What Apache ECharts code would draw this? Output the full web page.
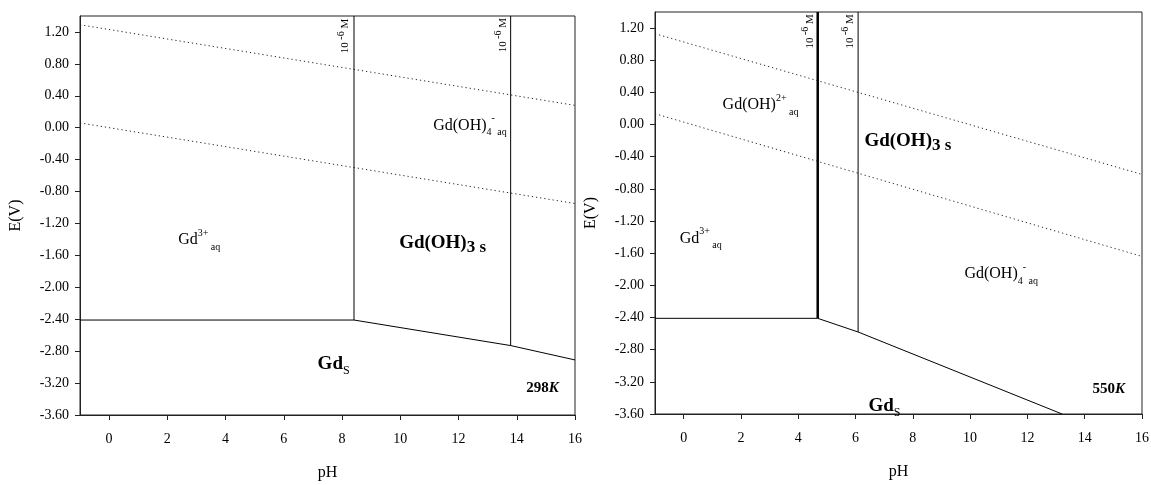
<!DOCTYPE html>
<html>
<head>
<meta charset="utf-8">
<script src="https://cdn.jsdelivr.net/npm/echarts@6/dist/echarts.min.js"></script>
<style>
  html, body { margin: 0; padding: 0; background: #fff; }
  #chart { width: 1151px; height: 485px; }
</style>
</head>
<body>
<div id="chart"></div>
<script>
// tick labels
const xTicks = [0, 2, 4, 6, 8, 10, 12, 14, 16];
const yTicks = [-3.6, -3.2, -2.8, -2.4, -2.0, -1.6, -1.2, -0.8, -0.4, 0.0, 0.4, 0.8, 1.2];

// 298 K panel
const o2Left = [[-1, 1.29], [16, 0.28]];
const h2Left = [[-1, 0.06], [16, -0.95]];
const floorLeft = [[-1, -2.41], [8.41, -2.41], [13.79, -2.73], [16, -2.91]];
const wall1Left = [[8.41, -2.41], [8.41, 1.4]];
const wall2Left = [[13.79, -2.73], [13.79, 1.4]];

// 550 K panel
const o2Right = [[-1, 1.13], [16, -0.62]];
const h2Right = [[-1, 0.135], [16, -1.64]];
const floorRight = [[-1, -2.41], [4.68, -2.41], [6.09, -2.58], [13.21, -3.6]];
const wall1Right = [[4.68, -2.41], [4.68, 1.4]];
const wall2Right = [[6.09, -2.58], [6.09, 1.4]];

// region labels: [pH, E, rich text, rotated]
const labelsLeft = [
  [8.12, 1.15, '{s|10}{sup| -6}{s| M}', true],
  [13.52, 1.16, '{s|10}{sup| -6}{s| M}', true],
  [11.13, 0.03, '{n|Gd(OH)}{sub|4}{sup|-}{sub| aq}', false],
  [9.96, -1.45, '{b|Gd(OH)}{bsub|3 s}', false],
  [2.37, -1.41, '{n|Gd}{sup|3+}{sub| aq}', false],
  [7.16, -2.96, '{b|Gd}{bsub2|S}', false],
  [14.33, -3.26, '{k|298}{ki|K}', false]
];
const labelsRight = [
  [4.4, 1.16, '{s|10}{sup| -6}{s| M}', true],
  [5.8, 1.16, '{s|10}{sup| -6}{s| M}', true],
  [1.36, 0.24, '{n|Gd(OH)}{sup|2+}{sub| aq}', false],
  [6.31, -0.2, '{b|Gd(OH)}{bsub|3 s}', false],
  [-0.14, -1.42, '{n|Gd}{sup|3+}{sub| aq}', false],
  [9.8, -1.86, '{n|Gd(OH)}{sub|4}{sup|-}{sub| aq}', false],
  [6.45, -3.5, '{b|Gd}{bsub2|S}', false],
  [14.27, -3.29, '{k|550}{ki|K}', false]
];

const serif = 'Liberation Serif';
const ink = '#000';

const rich = {
  n: { fontFamily: serif, fontSize: 16, color: ink, lineHeight: 24 },
  sup: { fontFamily: serif, fontSize: 10, color: ink, lineHeight: 10, verticalAlign: 'top' },
  sub: { fontFamily: serif, fontSize: 10, color: ink, lineHeight: 10, verticalAlign: 'bottom' },
  b: { fontFamily: serif, fontSize: 19, fontWeight: 'bold', color: ink, lineHeight: 26 },
  bsub: { fontFamily: serif, fontSize: 17, fontWeight: 'bold', color: ink, lineHeight: 14, verticalAlign: 'bottom' },
  bsub2: { fontFamily: serif, fontSize: 12, color: ink, lineHeight: 12, verticalAlign: 'bottom' },
  k: { fontFamily: serif, fontSize: 15, fontWeight: 'bold', color: ink },
  ki: { fontFamily: serif, fontSize: 15, fontWeight: 'bold', fontStyle: 'italic', color: ink },
  s: { fontFamily: serif, fontSize: 11, color: ink, lineHeight: 18 }
};

function xAxisFor(gridIndex) {
  return {
    type: 'value', gridIndex: gridIndex, min: -1, max: 16,
    name: 'pH', nameLocation: 'middle', nameGap: 50,
    nameTextStyle: { fontFamily: serif, fontSize: 16, color: ink },
    splitLine: { show: false },
    axisLine: { onZero: false, lineStyle: { color: '#222' } },
    axisTick: { customValues: xTicks, length: 5, lineStyle: { color: '#222' } },
    axisLabel: { customValues: xTicks, margin: 17, fontFamily: serif, fontSize: 14, color: ink }
  };
}

function yAxisFor(gridIndex) {
  return {
    type: 'value', gridIndex: gridIndex, min: -3.6, max: 1.4,
    name: 'E(V)', nameLocation: 'middle', nameGap: 56, nameRotate: 90,
    nameTextStyle: { fontFamily: serif, fontSize: 16, color: ink },
    splitLine: { show: false },
    axisLine: { onZero: false, lineStyle: { color: '#222' } },
    axisTick: { customValues: yTicks, length: 5, lineStyle: { color: '#222' } },
    axisLabel: {
      customValues: yTicks, margin: 11, fontFamily: serif, fontSize: 14, color: ink,
      formatter: (v) => v.toFixed(2)
    }
  };
}

function lineSeries(idx, data, style) {
  return {
    type: 'line', xAxisIndex: idx, yAxisIndex: idx, data: data,
    showSymbol: false, symbol: 'none', silent: true, animation: false,
    lineStyle: Object.assign({ color: ink, width: 1 }, style)
  };
}

function labelSeries(idx, labels) {
  return {
    type: 'scatter', xAxisIndex: idx, yAxisIndex: idx, symbolSize: 0,
    silent: true, animation: false,
    data: labels.map((l) => ({
      value: [l[0], l[1]],
      label: {
        show: true,
        color: ink,
        opacity: 1,
        formatter: l[2],
        rich: rich,
        position: l[3] ? 'inside' : 'right',
        distance: 0,
        rotate: l[3] ? 90 : 0
      }
    }))
  };
}

const dotted = { type: [1.2, 3], color: '#222' };

const chart = echarts.init(document.getElementById('chart'));
chart.setOption({
  backgroundColor: '#fff',
  animation: false,
  grid: [
    { left: 80, top: 16, width: 495, height: 399, outerBoundsMode: 'none', containLabel: false,
      show: true, borderColor: '#222', borderWidth: 1 },
    { left: 655, top: 12, width: 487, height: 402, outerBoundsMode: 'none', containLabel: false,
      show: true, borderColor: '#222', borderWidth: 1 }
  ],
  xAxis: [xAxisFor(0), xAxisFor(1)],
  yAxis: [yAxisFor(0), yAxisFor(1)],
  series: [
    lineSeries(0, o2Left, dotted),
    lineSeries(0, h2Left, dotted),
    lineSeries(0, floorLeft, {}),
    lineSeries(0, wall1Left, {}),
    lineSeries(0, wall2Left, {}),
    labelSeries(0, labelsLeft),
    lineSeries(1, o2Right, dotted),
    lineSeries(1, h2Right, dotted),
    lineSeries(1, floorRight, {}),
    lineSeries(1, wall1Right, { width: 2.5 }),
    lineSeries(1, wall2Right, {}),
    labelSeries(1, labelsRight)
  ]
});
</script>
</body>
</html>
